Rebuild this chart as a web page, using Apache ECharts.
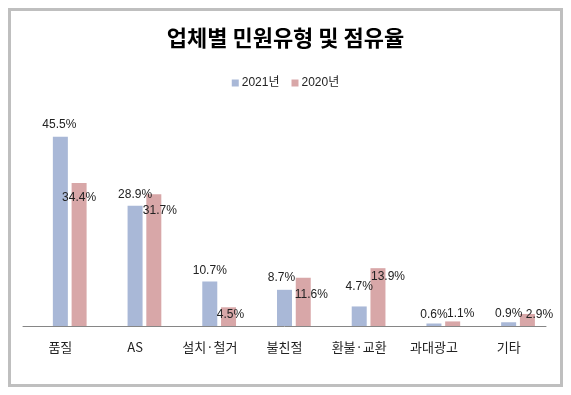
<!DOCTYPE html>
<html>
<head>
<meta charset="utf-8">
<script src="https://cdn.jsdelivr.net/npm/echarts@6/dist/echarts.min.js"></script>
<style>
html,body{margin:0;padding:0;background:#fff;}
#chart{width:571px;height:395px;}
</style>
</head>
<body>
<div id="chart"></div>
<script>
var titleText = '업체별 민원유형 및 점유율';
var categories = ['품질', 'AS', '설치·철거', '불친절', '환불·교환', '과대광고', '기타'];
var seriesNames = ['2021년', '2020년'];
var values2021 = [45.5, 28.9, 10.7, 8.7, 4.7, 0.6, 0.9];
var values2020 = [34.4, 31.7, 4.5, 11.6, 13.9, 1.1, 2.9];

// label nudges (layout only) to mimic the reference's label placement
var nudge2021 = [[-1, -1], [0, 0], [0, 0], [-3, -1], [0, -9], [0, 2], [0, 2]];
var nudge2020 = [[0, 26], [6, 28], [2, 18], [8, 28], [10, 20], [8, 3], [12, 12]];

var FONT = 'Liberation Sans, "Noto Sans CJK KR", sans-serif';

function buildData(vals, nudges) {
  return vals.map(function (v, i) {
    return { value: v, label: { offset: nudges[i] } };
  });
}

var chart = echarts.init(document.getElementById('chart'), null, { renderer: 'canvas' });
chart.setOption({
  animation: false,
  backgroundColor: '#fff',
  graphic: [{
    type: 'rect',
    shape: { x: 9.5, y: 9.5, width: 552, height: 376 },
    style: { fill: 'none', stroke: '#bfbfbf', lineWidth: 3 },
    silent: true
  }],
  title: {
    text: titleText,
    left: 'center',
    top: 22,
    textStyle: { fontSize: 22, fontWeight: 'bold', color: '#000', fontFamily: '"Noto Sans CJK KR", sans-serif' }
  },
  legend: {
    data: seriesNames,
    top: 72,
    left: 'center',
    itemWidth: 7,
    itemHeight: 7,
    itemGap: 12,
    icon: 'rect',
    textStyle: { fontSize: 12, color: '#222', fontFamily: FONT, padding: [0, 0, 0, -2] }
  },
  grid: { left: 23, right: 25, top: 118, bottom: 69 },
  xAxis: {
    type: 'category',
    data: categories,
    axisLine: { lineStyle: { color: '#868686', width: 1 } },
    axisTick: { show: false },
    axisLabel: { color: '#222', fontSize: 13, margin: 15, interval: 0, fontFamily: '"Noto Sans CJK KR", sans-serif' }
  },
  yAxis: {
    type: 'value',
    min: 0,
    max: 50,
    show: false,
    splitLine: { show: false }
  },
  series: [
    {
      name: '',
      type: 'bar',
      barWidth: 15,
      barGap: '25%',
      data: categories.map(function () { return '-'; }),
      silent: true
    },
    {
      name: seriesNames[0],
      type: 'bar',
      barWidth: 15,
      barGap: '25%',
      itemStyle: { color: '#a9b8d7' },
      label: {
        show: true, position: 'top', distance: 5,
        formatter: '{c}%', fontSize: 12, color: '#222', fontFamily: FONT
      },
      data: buildData(values2021, nudge2021)
    },
    {
      name: seriesNames[1],
      type: 'bar',
      barWidth: 15,
      barGap: '25%',
      itemStyle: { color: '#d8a7a8' },
      label: {
        show: true, position: 'top', distance: 5,
        formatter: '{c}%', fontSize: 12, color: '#222', fontFamily: FONT
      },
      data: buildData(values2020, nudge2020)
    }
  ]
});
</script>
</body>
</html>
